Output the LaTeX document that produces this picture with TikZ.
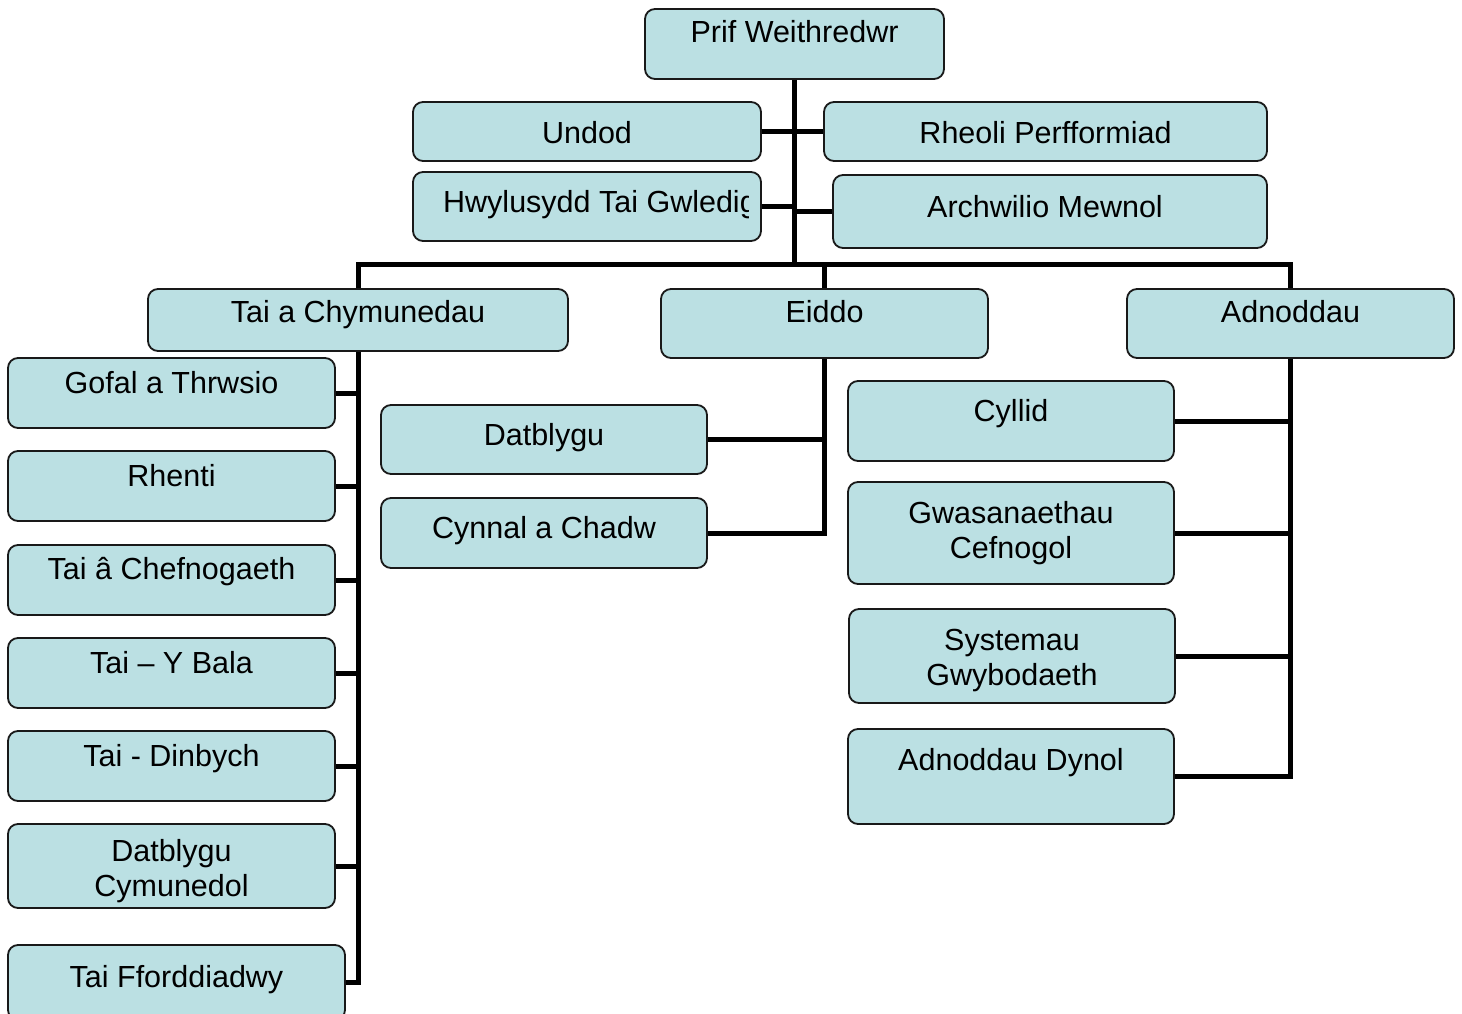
\documentclass[tikz,border=0pt]{standalone}
\usepackage{fontspec}
\setmainfont{Liberation Sans}
\definecolor{boxfill}{RGB}{187,224,227}
\tikzset{
  box/.style={draw=black!90, line width=1.8pt, fill=boxfill, rounded corners=10pt, inner sep=0pt},
  lbl/.style={anchor=base, inner sep=0pt, font=\fontsize{30.5pt}{35pt}\selectfont},
  conn/.style={line width=5pt, draw=black}
}
\newcommand{\twolines}[2]{\begin{tabular}[t]{@{}c@{}}#1\\#2\end{tabular}}
\begin{document}
\begin{tikzpicture}[x=1pt,y=-1pt]
\clip (0,0) rectangle (1462,1014);
\fill[white] (0,0) rectangle (1462,1014);
% connectors first (drawn under boxes)
\coordinate (busL) at (358,264);
\coordinate (busR) at (1290.5,264);
% boxes
\node[box, minimum width=299pt, minimum height=70pt] (prif) at (794.5,44) {};
\node[box, minimum width=348pt, minimum height=59pt] (undod) at (587,131.5) {};
\node[box, minimum width=443pt, minimum height=59pt] (rheoli) at (1045.5,131.5) {};
\node[box, minimum width=348pt, minimum height=69pt] (hwyl) at (587,206.5) {};
\node[box, minimum width=434pt, minimum height=73pt] (arch) at (1050,211.5) {};
\node[box, minimum width=420pt, minimum height=62pt] (tai) at (358,320) {};
\node[box, minimum width=327pt, minimum height=69pt] (eiddo) at (824.5,323.5) {};
\node[box, minimum width=327pt, minimum height=69pt] (adn) at (1290.5,323.5) {};
\node[box, minimum width=327pt, minimum height=70pt] (gofal) at (171.5,393) {};
\node[box, minimum width=327pt, minimum height=70pt] (rhenti) at (171.5,486) {};
\node[box, minimum width=327pt, minimum height=70pt] (chef) at (171.5,580) {};
\node[box, minimum width=327pt, minimum height=70pt] (bala) at (171.5,673) {};
\node[box, minimum width=327pt, minimum height=70pt] (dinb) at (171.5,766) {};
\node[box, minimum width=327pt, minimum height=84pt] (datcym) at (171.5,866) {};
\node[box, minimum width=337pt, minimum height=75pt] (ffor) at (176.5,982.5) {};
\node[box, minimum width=326pt, minimum height=69pt] (datb) at (544,439.5) {};
\node[box, minimum width=326pt, minimum height=70pt] (cynnal) at (544,533) {};
\node[box, minimum width=326pt, minimum height=80pt] (cyllid) at (1011,421) {};
\node[box, minimum width=326pt, minimum height=102pt] (gwas) at (1011,533) {};
\node[box, minimum width=326pt, minimum height=94pt] (syst) at (1012,656) {};
\node[box, minimum width=326pt, minimum height=95pt] (dynol) at (1011,776.5) {};
% connectors
\draw[conn] (prif.south) -- (prif.south |- busL);
\draw[conn] (tai.north) -- (busL) -- (busR) -- (adn.north);
\draw[conn] (eiddo.north) -- (eiddo.north |- busL);
\draw[conn] (undod.east) -- (rheoli.west);
\draw[conn] (hwyl.east) -- (hwyl.east -| prif.south);
\draw[conn] (arch.west) -- (arch.west -| prif.south);
\draw[conn] (tai.south) -- (tai.south |- ffor.east) -- (ffor.east);
\foreach \n in {gofal,rhenti,chef,bala,dinb,datcym}
  \draw[conn] (\n.east) -- (\n.east -| tai.south);
\draw[conn] (eiddo.south) -- (eiddo.south |- cynnal.east) -- (cynnal.east);
\draw[conn] (datb.east) -- (datb.east -| eiddo.south);
\draw[conn] (adn.south) -- (adn.south |- dynol.east) -- (dynol.east);
\foreach \n in {cyllid,gwas,syst}
  \draw[conn] (\n.east) -- (\n.east -| adn.south);
% labels
\node[lbl] (prif-t) at (794.5,43) {Prif Weithredwr};
\node[lbl] (undod-t) at (587,143) {Undod};
\node[lbl] (rheoli-t) at (1045.5,143) {Rheoli Perfformiad};
\begin{scope}
\clip (413,172) rectangle (748,241);
\node[lbl, anchor=base west] (hwyl-t) at (443,212) {Hwylusydd Tai Gwledig};
\end{scope}
\node[lbl] (arch-t) at (1045,217) {Archwilio Mewnol};
\node[lbl] (tai-t) at (358,322) {Tai a Chymunedau};
\node[lbl] (eiddo-t) at (824.5,322) {Eiddo};
\node[lbl] (adn-t) at (1290.5,322) {Adnoddau};
\node[lbl] (gofal-t) at (171.5,393) {Gofal a Thrwsio};
\node[lbl] (rhenti-t) at (171.5,486) {Rhenti};
\node[lbl] (chef-t) at (171.5,579) {Tai â Chefnogaeth};
\node[lbl] (bala-t) at (171.5,673) {Tai – Y Bala};
\node[lbl] (dinb-t) at (171.5,766) {Tai - Dinbych};
\node[lbl] (datcym-t) at (171.5,861) {\twolines{Datblygu}{Cymunedol}};
\node[lbl] (ffor-t) at (176.5,987) {Tai Fforddiadwy};
\node[lbl] (datb-t) at (544,445) {Datblygu};
\node[lbl] (cynnal-t) at (544,538) {Cynnal a Chadw};
\node[lbl] (cyllid-t) at (1011,421) {Cyllid};
\node[lbl] (gwas-t) at (1011,523) {\twolines{Gwasanaethau}{Cefnogol}};
\node[lbl] (syst-t) at (1012,650) {\twolines{Systemau}{Gwybodaeth}};
\node[lbl] (dynol-t) at (1011,770) {Adnoddau Dynol};
\end{tikzpicture}
\end{document}
